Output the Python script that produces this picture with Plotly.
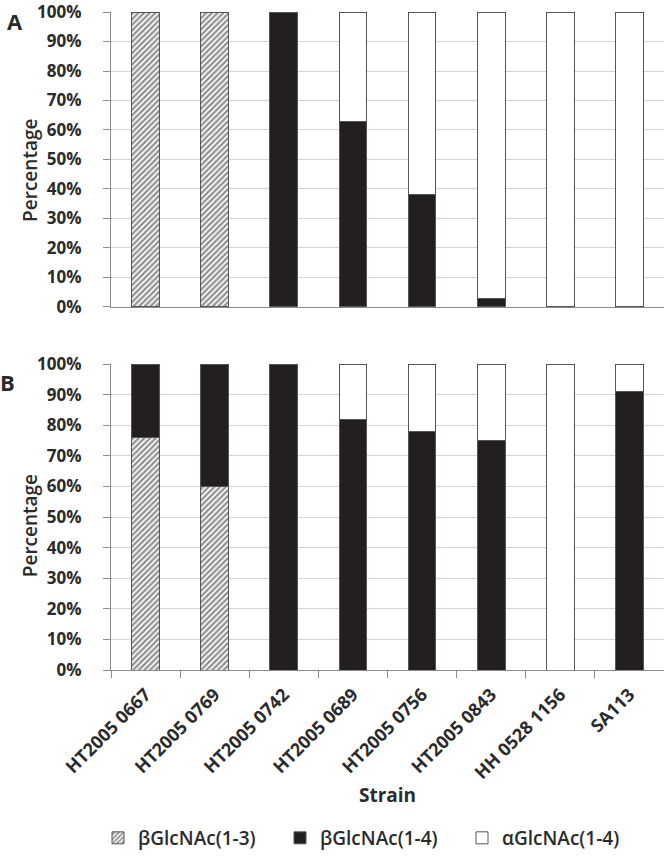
import plotly.graph_objects as go
from plotly.subplots import make_subplots

# Souches et pourcentages
strains = ['HT2005 0667', 'HT2005 0769', 'HT2005 0742', 'HT2005 0689',
           'HT2005 0756', 'HT2005 0843', 'HH 0528 1156', 'SA113']

# Panneau A
a_b13 = [100, 100, 0, 0, 0, 0, 0, 0]
a_b14 = [0, 0, 100, 63, 38, 3, 0, 0]
a_a14 = [0, 0, 0, 37, 62, 97, 100, 100]

# Panneau B
b_b13 = [76, 60, 0, 0, 0, 0, 0, 0]
b_b14 = [24, 40, 100, 82, 78, 75, 0, 91]
b_a14 = [0, 0, 0, 18, 22, 25, 100, 9]

names = ['βGlcNAc(1-3)', 'βGlcNAc(1-4)', 'αGlcNAc(1-4)']
y_ticks = [0, 10, 20, 30, 40, 50, 60, 70, 80, 90, 100]

FONT = 'Open Sans'
TXT = '#2b2b2b'
BLACK = '#231f20'
EDGE = '#555555'

fig = make_subplots(rows=2, cols=1)


def add_panel(row, b13, b14, a14, legend):
    fig.add_trace(go.Bar(
        x=strains, y=b13, name=names[0], showlegend=legend,
        marker=dict(color='white', line=dict(color=EDGE, width=1),
                    pattern=dict(shape='/', fgcolor=BLACK, bgcolor='white',
                                 size=4, solidity=0.55)),
    ), row=row, col=1)
    fig.add_trace(go.Bar(
        x=strains, y=b14, name=names[1], showlegend=legend,
        marker=dict(color=BLACK, line=dict(color=EDGE, width=1)),
    ), row=row, col=1)
    fig.add_trace(go.Bar(
        x=strains, y=a14, name=names[2], showlegend=legend,
        marker=dict(color='white', line=dict(color=EDGE, width=1)),
    ), row=row, col=1)


add_panel(1, a_b13, a_b14, a_a14, True)
add_panel(2, b_b13, b_b14, b_a14, False)

yaxis_style = dict(
    range=[0, 100], tickvals=y_ticks, ticktext=[f'{v}%' for v in y_ticks],
    showgrid=True, gridcolor='#d4d4d4', gridwidth=1,
    showline=True, linecolor='#8c8c8c', linewidth=1,
    ticks='outside', ticklen=7, tickcolor='#8c8c8c', ticklabelstandoff=18,
    ticklabeloverflow='allow',
    tickfont=dict(family=FONT, size=17, color=TXT, weight='bold'),
    zeroline=False, automargin=False,
)

title_font = dict(family=FONT, size=19, color=TXT, weight=600)

fig.update_layout(
    width=664, height=857,
    barmode='stack', bargap=0.6,
    plot_bgcolor='white', paper_bgcolor='white',
    margin=dict(l=111, r=0, t=12, b=187, autoexpand=False),
    font=dict(family=FONT, color=TXT),
    xaxis=dict(domain=[0, 1], range=[-0.5, 7.5], showticklabels=False, automargin=False,
               showline=True, linecolor='#8c8c8c', linewidth=1, ticks=''),
    xaxis2=dict(domain=[0, 1], range=[-0.5, 7.5], tickangle=-45, automargin=False,
                showline=True, linecolor='#8c8c8c', linewidth=1,
                ticks='outside', tickson='boundaries', ticklen=7, tickcolor='#8c8c8c',
                ticklabelstandoff=6,
                tickfont=dict(family=FONT, size=18, color=TXT, weight='bold'),
                title=dict(text='Strain', font=dict(family=FONT, size=19, color=TXT, weight='bold'),
                           standoff=5)),
    yaxis=dict(domain=[0.5517, 1], **yaxis_style),
    yaxis2=dict(domain=[0, 0.465], **yaxis_style),
    legend=dict(orientation='h', x=-0.0235, xanchor='left', y=-0.2553, yanchor='middle',
                font=dict(family=FONT, size=19, color=TXT, weight=600),
                itemwidth=30, entrywidth=137, entrywidthmode='pixels',
                traceorder='normal'),
    annotations=[
        dict(text='A', x=-0.174, y=0.986, xref='paper', yref='paper', showarrow=False,
             xanchor='center', yanchor='middle', font=dict(family=FONT, size=22, color=TXT, weight='bold')),
        dict(text='B', x=-0.188, y=0.438, xref='paper', yref='paper', showarrow=False,
             xanchor='center', yanchor='middle', font=dict(family=FONT, size=22, color=TXT, weight='bold')),
        dict(text='Percentage', x=-0.1465, y=0.76, xref='paper', yref='paper', showarrow=False,
             textangle=-90, xanchor='center', yanchor='middle', font=title_font),
        dict(text='Percentage', x=-0.1465, y=0.22, xref='paper', yref='paper', showarrow=False,
             textangle=-90, xanchor='center', yanchor='middle', font=title_font),
    ],
)

# pas de marge de page autour du graphique
fig.write_html('out.html', config={'displayModeBar': False},
               post_script="document.body.style.margin = '0';")
